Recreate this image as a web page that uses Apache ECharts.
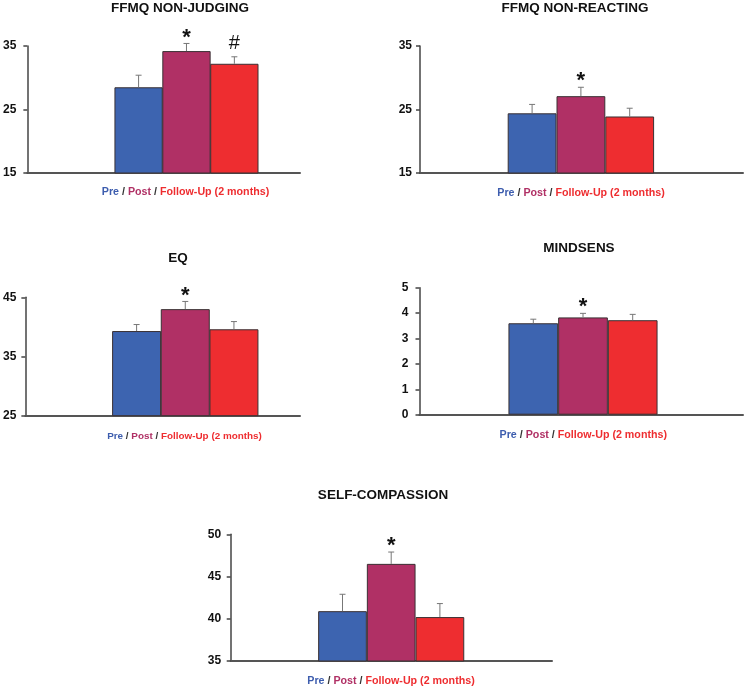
<!DOCTYPE html>
<html>
<head>
<meta charset="utf-8">
<script src="https://cdn.jsdelivr.net/npm/echarts@6/dist/echarts.min.js"></script>
<style>html,body{margin:0;padding:0;background:#fff}#c{width:750px;height:689px}</style>
</head>
<body>
<div id="c"></div>
<script>
// ---- data ----
const groups = ['Pre', 'Post', 'Follow-Up (2 months)'];
const panelTitles = ['FFMQ NON-JUDGING', 'FFMQ NON-REACTING', 'EQ', 'MINDSENS', 'SELF-COMPASSION'];
const nonJudgingMeans = [28.5, 34.2, 32.2];
const nonJudgingSE = [1.9, 1.2, 1.1];
const nonJudgingMarks = ['', '*', '#'];
const nonReactingMeans = [24.4, 27.1, 23.9];
const nonReactingSE = [1.4, 1.4, 1.3];
const nonReactingMarks = ['', '*', ''];
const eqMeans = [39.3, 43.0, 39.6];
const eqSE = [1.1, 1.3, 1.3];
const eqMarks = ['', '*', ''];
const mindsensMeans = [3.6, 3.83, 3.72];
const mindsensSE = [0.16, 0.16, 0.23];
const mindsensMarks = ['', '*', ''];
const selfCompMeans = [40.9, 46.5, 40.2];
const selfCompSE = [2.0, 1.4, 1.6];
const selfCompMarks = ['', '*', ''];
// y-axis ticks: [min, max, interval]
const nonJudgingTicks = [15, 35, 10];
const nonReactingTicks = [15, 35, 10];
const eqTicks = [25, 45, 10];
const mindsensTicks = [0, 5, 1];
const selfCompTicks = [35, 50, 5];

const panelData = [
  [nonJudgingMeans, nonJudgingSE, nonJudgingMarks, nonJudgingTicks],
  [nonReactingMeans, nonReactingSE, nonReactingMarks, nonReactingTicks],
  [eqMeans, eqSE, eqMarks, eqTicks],
  [mindsensMeans, mindsensSE, mindsensMarks, mindsensTicks],
  [selfCompMeans, selfCompSE, selfCompMarks, selfCompTicks]
];

// ---- layout (pixels) ----
const layout = [
  {l: 25, t: 46, r: 300, b: 173, c0: 137.2, w: 48.3, tx: 180, ty: 8, lx: 185.5, ly: 192.5, lf: 10.7, lm: 11},
  {l: 420, t: 46, r: 743, b: 173, c0: 532.1, w: 48.8, tx: 575, ty: 8, lx: 581, ly: 192.7, lf: 10.7, lm: 8},
  {l: 23.5, t: 297.3, r: 300, b: 415.7, c0: 135.5, w: 49, tx: 178, ty: 258, lx: 184.5, ly: 436.7, lf: 9.9, lm: 9},
  {l: 419.5, t: 287.7, r: 743, b: 414.7, c0: 533.3, w: 49.7, tx: 579, ty: 248.7, lx: 583.3, ly: 435, lf: 10.7, lm: 11},
  {l: 230.7, t: 534.3, r: 552, b: 661, c0: 342.5, w: 48.7, tx: 383, ty: 495, lx: 391, ly: 680.7, lf: 10.7, lm: 9.5}
];

const colors = ['#3D64B0', '#B03065', '#EE2D30'];
const FONT = '"Liberation Sans", Arial, Helvetica, sans-serif';

const W = 750, H = 689;
const grids = [], xAxes = [], yAxes = [], series = [], graphics = [];

panelData.forEach(function (pd, i) {
  const L = layout[i];
  const means = pd[0], se = pd[1], marks = pd[2], ticks = pd[3];
  grids.push({left: L.l, top: L.t, width: L.r - L.l, height: L.b - L.t, containLabel: false});
  xAxes.push({
    type: 'value', gridIndex: i,
    min: (L.l - L.c0) / L.w, max: (L.r - L.c0) / L.w,
    axisLine: {show: true, onZero: false, lineStyle: {color: '#555', width: 2}},
    axisTick: {show: false}, axisLabel: {show: false}, splitLine: {show: false}
  });
  yAxes.push({
    type: 'value', gridIndex: i,
    min: ticks[0], max: ticks[1], interval: ticks[2],
    axisLine: {show: true, onZero: false, lineStyle: {color: '#444', width: 1.5}},
    axisTick: {show: true, inside: false, length: 4, lineStyle: {color: '#444', width: 1.5}},
    axisLabel: {fontFamily: FONT, fontWeight: 'bold', fontSize: 12, color: '#111', margin: L.lm},
    splitLine: {show: false}
  });
  series.push({
    type: 'bar', xAxisIndex: i, yAxisIndex: i,
    barWidth: L.w, clip: true, z: 2,
    data: means.map(function (v, k) {
      return {value: [k, v], itemStyle: {color: colors[k], borderColor: '#3a3033', borderWidth: 1}};
    })
  });
  series.push({
    type: 'custom', xAxisIndex: i, yAxisIndex: i, z: 5, clip: false,
    data: means.map(function (v, k) { return [k, v, se[k]]; }),
    renderItem: function (params, api) {
      const x = api.value(0), m = api.value(1), e = api.value(2);
      const p0 = api.coord([x, m]);
      const p1 = api.coord([x, m + e]);
      const mark = marks[params.dataIndex];
      const children = [
        {type: 'line', shape: {x1: p0[0], y1: p0[1], x2: p1[0], y2: p1[1]}, style: {stroke: '#777', lineWidth: 1}},
        {type: 'line', shape: {x1: p1[0] - 3, y1: p1[1], x2: p1[0] + 3, y2: p1[1]}, style: {stroke: '#777', lineWidth: 1}}
      ];
      if (mark) {
        const isStar = mark === '*';
        children.push({
          type: 'text',
          x: p1[0], y: p1[1] - (isStar ? 6 : 13.5),
          style: {
            text: mark, fill: '#111',
            font: (isStar ? 'bold 22px ' : 'normal 20px ') + FONT,
            align: 'center', verticalAlign: 'middle'
          }
        });
      }
      return {type: 'group', children: children};
    }
  });
  graphics.push({
    type: 'text', x: L.tx, y: L.ty, z: 10,
    style: {text: panelTitles[i], fill: '#111', font: 'bold 13.5px ' + FONT, align: 'center', verticalAlign: 'middle'}
  });
  graphics.push({
    type: 'text', x: L.lx, y: L.ly, z: 10,
    style: {
      text: '{p|' + groups[0] + '}{s| / }{q|' + groups[1] + '}{s| / }{f|' + groups[2] + '}',
      align: 'center', verticalAlign: 'middle',
      font: 'bold ' + L.lf + 'px ' + FONT,
      rich: {
        p: {fill: '#3D5DAE', font: 'bold ' + L.lf + 'px ' + FONT},
        s: {fill: '#333', font: 'bold ' + L.lf + 'px ' + FONT},
        q: {fill: '#B03065', font: 'bold ' + L.lf + 'px ' + FONT},
        f: {fill: '#EE2D30', font: 'bold ' + L.lf + 'px ' + FONT}
      }
    }
  });
});

const chart = echarts.init(document.getElementById('c'), null, {renderer: 'canvas', width: W, height: H});
chart.setOption({
  backgroundColor: '#fff',
  animation: false,
  grid: grids,
  xAxis: xAxes,
  yAxis: yAxes,
  series: series,
  graphic: graphics
});
</script>
</body>
</html>
